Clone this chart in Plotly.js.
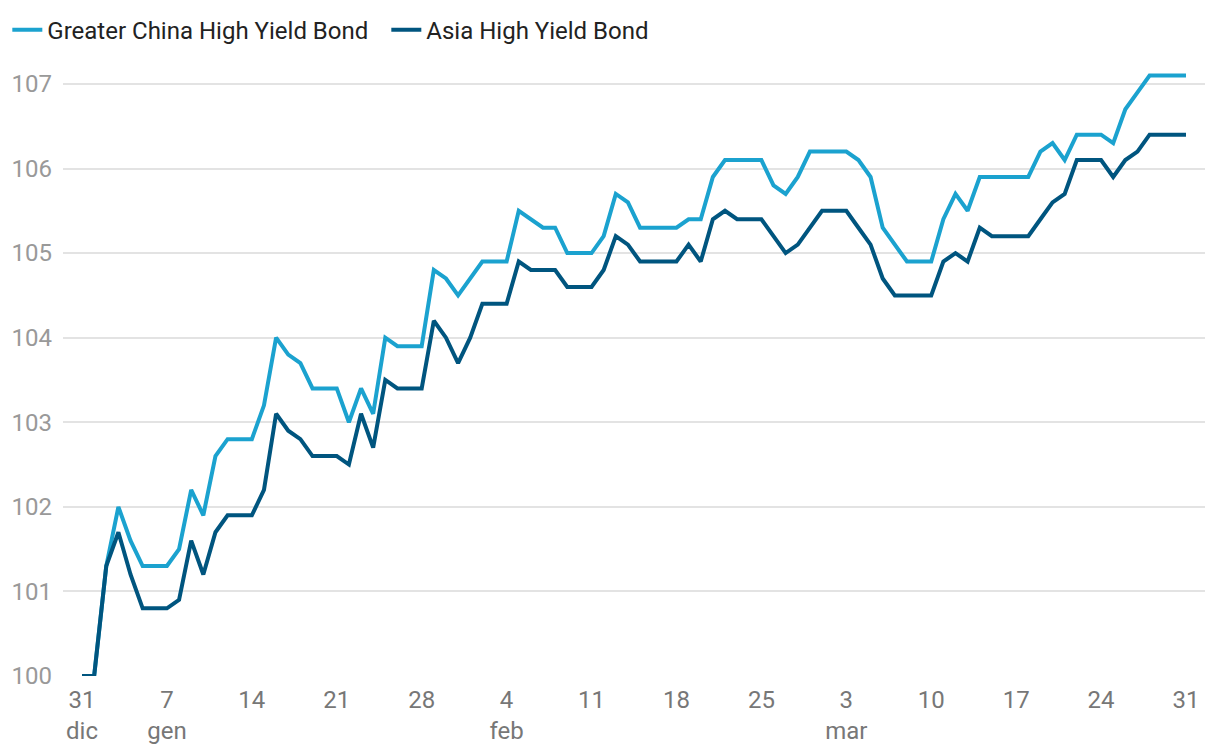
<!DOCTYPE html>
<html>
<head>
<meta charset="utf-8">
<script src="https://cdn.plot.ly/plotly-3.0.1.min.js"></script>
<style>
html,body{margin:0;padding:0;background:#fff;}
#chart{width:1220px;height:756px;}
</style>
</head>
<body>
<div id="chart"></div>
<script>
const dates = [
"2023-12-31",
"2024-01-01","2024-01-02","2024-01-03","2024-01-04","2024-01-05","2024-01-06","2024-01-07","2024-01-08","2024-01-09","2024-01-10",
"2024-01-11","2024-01-12","2024-01-13","2024-01-14","2024-01-15","2024-01-16","2024-01-17","2024-01-18","2024-01-19","2024-01-20",
"2024-01-21","2024-01-22","2024-01-23","2024-01-24","2024-01-25","2024-01-26","2024-01-27","2024-01-28","2024-01-29","2024-01-30","2024-01-31",
"2024-02-01","2024-02-02","2024-02-03","2024-02-04","2024-02-05","2024-02-06","2024-02-07","2024-02-08","2024-02-09","2024-02-10",
"2024-02-11","2024-02-12","2024-02-13","2024-02-14","2024-02-15","2024-02-16","2024-02-17","2024-02-18","2024-02-19","2024-02-20",
"2024-02-21","2024-02-22","2024-02-23","2024-02-24","2024-02-25","2024-02-26","2024-02-27","2024-02-28","2024-02-29",
"2024-03-01","2024-03-02","2024-03-03","2024-03-04","2024-03-05","2024-03-06","2024-03-07","2024-03-08","2024-03-09","2024-03-10",
"2024-03-11","2024-03-12","2024-03-13","2024-03-14","2024-03-15","2024-03-16","2024-03-17","2024-03-18","2024-03-19","2024-03-20",
"2024-03-21","2024-03-22","2024-03-23","2024-03-24","2024-03-25","2024-03-26","2024-03-27","2024-03-28","2024-03-29","2024-03-30","2024-03-31"
];

const greaterChina = [
100,100,101.3,102.0,101.6,101.3,101.3,101.3,101.5,102.2,101.9,
102.6,102.8,102.8,102.8,103.2,104.0,103.8,103.7,103.4,103.4,
103.4,103.0,103.4,103.1,104.0,103.9,103.9,103.9,104.8,104.7,104.5,
104.7,104.9,104.9,104.9,105.5,105.4,105.3,105.3,105.0,105.0,
105.0,105.2,105.7,105.6,105.3,105.3,105.3,105.3,105.4,105.4,
105.9,106.1,106.1,106.1,106.1,105.8,105.7,105.9,106.2,
106.2,106.2,106.2,106.1,105.9,105.3,105.1,104.9,104.9,104.9,
105.4,105.7,105.5,105.9,105.9,105.9,105.9,105.9,106.2,106.3,
106.1,106.4,106.4,106.4,106.3,106.7,106.9,107.1,107.1,107.1,107.1
];

const asia = [
100,100,101.3,101.7,101.2,100.8,100.8,100.8,100.9,101.6,101.2,
101.7,101.9,101.9,101.9,102.2,103.1,102.9,102.8,102.6,102.6,
102.6,102.5,103.1,102.7,103.5,103.4,103.4,103.4,104.2,104.0,103.7,
104.0,104.4,104.4,104.4,104.9,104.8,104.8,104.8,104.6,104.6,
104.6,104.8,105.2,105.1,104.9,104.9,104.9,104.9,105.1,104.9,
105.4,105.5,105.4,105.4,105.4,105.2,105.0,105.1,105.3,
105.5,105.5,105.5,105.3,105.1,104.7,104.5,104.5,104.5,104.5,
104.9,105.0,104.9,105.3,105.2,105.2,105.2,105.2,105.4,105.6,
105.7,106.1,106.1,106.1,105.9,106.1,106.2,106.4,106.4,106.4,106.4
];

const tickDates = ["2023-12-31","2024-01-07","2024-01-14","2024-01-21","2024-01-28","2024-02-04","2024-02-11","2024-02-18","2024-02-25","2024-03-03","2024-03-10","2024-03-17","2024-03-24","2024-03-31"];
const tickLabels = ["31<br>dic","7<br>gen","14","21","28","4<br>feb","11","18","25","3<br>mar","10","17","24","31"];
const yTicks = [100,101,102,103,104,105,106,107];

const traces = [
  {x: dates, y: greaterChina, type: 'scatter', mode: 'lines', name: 'Greater China High Yield Bond',
   line: {color: '#1ba2cf', width: 4}},
  {x: dates, y: asia, type: 'scatter', mode: 'lines', name: 'Asia High Yield Bond',
   line: {color: '#00557f', width: 4}}
];

const layout = {
  width: 1220, height: 756,
  margin: {l: 63, r: 15, t: 67, b: 80},
  paper_bgcolor: '#fff', plot_bgcolor: '#fff',
  font: {family: 'Roboto, sans-serif', size: 24, color: '#222'},
  showlegend: true,
  legend: {orientation: 'h', xref: 'container', yref: 'container', x: 0.006, y: 0.99, xanchor: 'left', yanchor: 'top',
           font: {size: 24, color: '#222'}, entrywidth: 334, entrywidthmode: 'pixels'},
  xaxis: {type: 'date', range: ['2023-12-29 10:24', '2024-04-01 13:36'],
          tickmode: 'array', tickvals: tickDates, ticktext: tickLabels,
          showgrid: false, zeroline: false, showline: false, ticks: '',
          tickfont: {size: 24, color: '#777'}, ticklabelstandoff: 7},
  yaxis: {range: [100, 107.2], tickmode: 'array', tickvals: yTicks,
          showgrid: true, gridcolor: '#e3e3e3', gridwidth: 2, zeroline: false, showline: false, ticks: '',
          tickfont: {size: 24, color: '#999'}, ticklabelstandoff: 10}
};

Plotly.newPlot('chart', traces, layout, {displayModeBar: false, staticPlot: true});
</script>
</body>
</html>
